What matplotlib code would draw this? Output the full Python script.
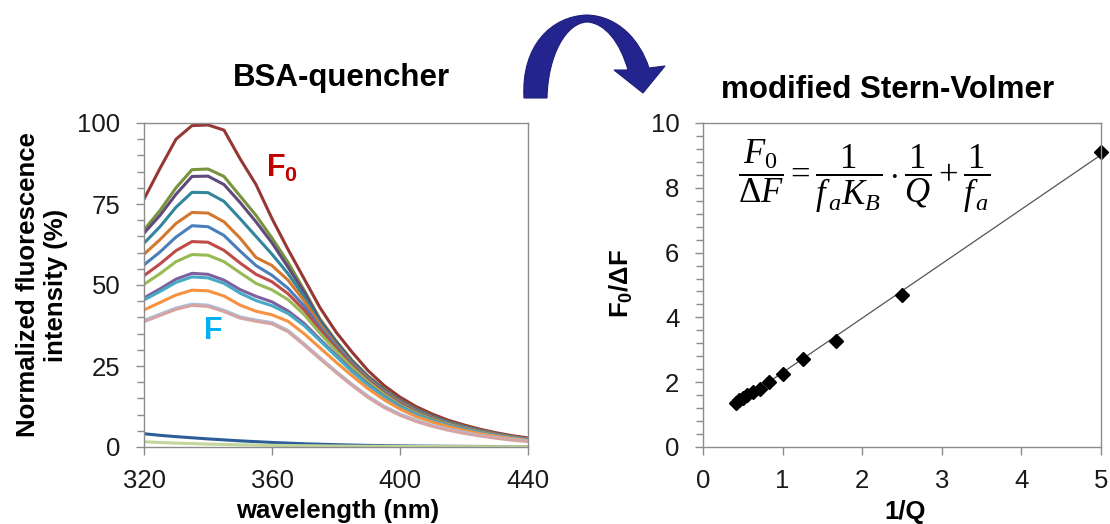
import numpy as np
import matplotlib
matplotlib.use('Agg')
import matplotlib.pyplot as plt
from matplotlib.path import Path
from matplotlib.patches import PathPatch
from matplotlib.ticker import MultipleLocator
import matplotlib.transforms as mtrans

plt.rcParams['font.family'] = ['Liberation Sans', 'DejaVu Sans']
plt.rcParams['mathtext.fontset'] = 'custom'
plt.rcParams['mathtext.rm'] = 'Liberation Serif'
plt.rcParams['mathtext.it'] = 'Liberation Serif:italic'
plt.rcParams['mathtext.bf'] = 'Liberation Sans:bold'
plt.rcParams['mathtext.sf'] = 'Liberation Sans'

# ---------------- data: left panel (emission spectra) ----------------
wavelength = [320, 325, 330, 335, 340, 345, 350, 355, 360, 365, 370, 375, 380,
              385, 390, 395, 400, 405, 410, 415, 420, 425, 430, 435, 440]

F0_curve = [76.5, 86, 95, 99.2, 99.4, 97.8, 89, 81, 70.5, 61, 52, 43, 35.5,
            29.3, 23.6, 19.0, 15.4, 12.5, 10.2, 8.3, 6.8, 5.5, 4.4, 3.5, 2.8]
q01 = [67, 73, 80, 85.6, 85.8, 83.5, 77.5, 71.5, 64.5, 57, 48.5, 39.5, 32.8,
       26.8, 21.9, 17.9, 14.5, 11.8, 9.6, 7.8, 6.4, 5.2, 4.1, 3.2, 2.5]
q02 = [66, 71.5, 78, 83.5, 83.6, 81, 75.5, 69.5, 63, 55.5, 47.8, 39.0, 32.4,
       26.5, 21.7, 17.7, 14.3, 11.6, 9.5, 7.7, 6.3, 5.1, 4.0, 3.2, 2.5]
q03 = [62.9, 68, 74, 78.6, 78.5, 75.8, 70.5, 65, 59.5, 53.5, 46.5, 38.4, 31.9,
       26.1, 21.4, 17.5, 14.1, 11.4, 9.3, 7.6, 6.2, 5.0, 4.0, 3.1, 2.4]
q04 = [59.5, 64, 69, 72.4, 72.2, 69.5, 64.5, 58.5, 56, 51.5, 45.2, 37.8, 31.4,
       25.8, 21.1, 17.2, 13.9, 11.2, 9.1, 7.4, 6.1, 4.9, 3.9, 3.1, 2.4]
q05 = [56.2, 60.2, 64.8, 68.3, 68.0, 65.3, 60.5, 56, 53, 49, 43.6, 36.9, 31.0,
       25.5, 20.8, 16.9, 13.6, 11.0, 8.9, 7.3, 6.0, 4.8, 3.8, 3.0, 2.3]
q06 = [52.9, 56.5, 60.6, 63.4, 63.2, 60.7, 56.8, 53.3, 51, 47.3, 42.3, 36.1, 30.4,
       25.1, 20.5, 16.6, 13.3, 10.7, 8.7, 7.1, 5.8, 4.7, 3.7, 2.9, 2.3]
q07 = [50.2, 53.5, 57.2, 59.4, 59.2, 57.2, 53.8, 50.5, 48.5, 45.5, 40.9, 35.1, 29.7,
       24.6, 20.1, 16.3, 13.0, 10.5, 8.5, 7.0, 5.7, 4.6, 3.6, 2.9, 2.2]
q08 = [46, 48.8, 51.8, 53.6, 53.3, 51.5, 48.6, 46.5, 44.8, 42, 38.2, 33.2, 28.4,
       23.6, 19.4, 15.7, 12.6, 10.1, 8.2, 6.7, 5.5, 4.4, 3.5, 2.8, 2.2]
q09 = [45.4, 48, 50.8, 52.5, 52.2, 50.5, 47.5, 45.2, 43.6, 41.2, 37.5, 32.8, 28,
       23.3, 19.1, 15.5, 12.4, 10.0, 8.1, 6.6, 5.4, 4.4, 3.5, 2.8, 2.2]
q10 = [42.3, 44.6, 46.9, 48.4, 48.2, 46.6, 43.8, 41.9, 40.8, 38.8, 35, 30.6, 26.2,
       22.0, 18.0, 14.6, 11.7, 9.4, 7.7, 6.3, 5.1, 4.1, 3.3, 2.6, 2.0]
q11 = [39.1, 41.0, 42.9, 44.1, 43.8, 42.2, 40.2, 39.2, 38.4, 36.0, 31.9, 27.6, 23.4,
       19.4, 15.7, 12.6, 10.2, 8.3, 6.7, 5.5, 4.5, 3.6, 2.9, 2.3, 1.8]
q12 = [38.7, 40.6, 42.5, 43.7, 43.4, 41.8, 39.8, 38.8, 38, 35.6, 31.5, 27.2, 23,
       19.0, 15.3, 12.2, 9.8, 7.9, 6.4, 5.2, 4.2, 3.4, 2.7, 2.1, 1.7]
blank_buffer = [4.1, 3.6, 3.2, 2.85, 2.5, 2.2, 1.9, 1.65, 1.4, 1.2, 1.0, 0.85, 0.72,
                0.6, 0.5, 0.42, 0.36, 0.3, 0.26, 0.22, 0.19, 0.17, 0.15, 0.13, 0.12]
blank_quencher = [1.6, 1.4, 1.2, 1.05, 0.9, 0.8, 0.7, 0.6, 0.52, 0.45, 0.4, 0.35, 0.3,
                  0.26, 0.23, 0.2, 0.18, 0.16, 0.14, 0.12, 0.11, 0.1, 0.1, 0.1, 0.1]

spectra = [F0_curve, q01, q02, q03, q04, q05, q06, q07, q08, q09, q10, q11, q12,
           blank_buffer, blank_quencher]
spectra_colors = ['#953735', '#77933C', '#604A7B', '#31859C', '#D2782F', '#4A7EBB',
                  '#BE4B48', '#98B954', '#7D60A0', '#46AAC5', '#F69240', '#A9C1DE',
                  '#D5A4A2', '#2C5D98', '#C3D69B']

wl_ticks = [320, 360, 400, 440]
int_ticks = [0, 25, 50, 75, 100]

# ---------------- data: right panel (modified Stern-Volmer) ----------------
inv_Q = [5.0, 2.5, 1.667, 1.25, 1.0, 0.833, 0.714, 0.625, 0.556, 0.5, 0.455, 0.417]
F0_over_dF = [9.12, 4.69, 3.27, 2.71, 2.25, 2.01, 1.80, 1.70, 1.61, 1.52, 1.44, 1.36]
q_ticks = [0, 1, 2, 3, 4, 5]
r_ticks = [0, 2, 4, 6, 8, 10]

W, H = 1110, 524
fig = plt.figure(figsize=(W / 100, H / 100), dpi=100)

spine_col = '#8C8C8C'
tick_font = 18.5
label_font = 18.5


def style_axes(ax):
    for s in ax.spines.values():
        s.set_color(spine_col)
        s.set_linewidth(1.0)
    ax.tick_params(which='both', direction='out', color=spine_col, width=1.0,
                   labelsize=tick_font, labelcolor='#1a1a1a')
    ax.tick_params(axis='y', which='major', length=6, pad=11)
    ax.tick_params(axis='y', which='minor', length=5)
    ax.tick_params(axis='x', which='major', length=6, pad=10)


# left panel
ax1 = fig.add_axes([144 / W, 1 - 447 / H, 384 / W, 324 / H])
for ys, c in zip(spectra, spectra_colors):
    ax1.plot(wavelength, ys, color=c, lw=2.2, solid_capstyle='round', solid_joinstyle='round')
ax1.set_xlim(320, 440)
ax1.set_ylim(0, 100)
ax1.set_xticks(wl_ticks)
ax1.set_yticks(int_ticks)
ax1.yaxis.set_minor_locator(MultipleLocator(5))
style_axes(ax1)
ax1.text(363.1, 86.1, r'$\mathbf{F_0}$', color='#C00000', fontsize=22,
         ha='center', va='center')
ax1.text(341.7, 35.8, 'F', color='#00B0F0', fontsize=22, fontweight='bold',
         ha='center', va='center')

# right panel
ax2 = fig.add_axes([703 / W, 1 - 447 / H, 398 / W, 324 / H])
fit = np.polyfit(inv_Q, F0_over_dF, 1)
xs = np.array([min(inv_Q), max(inv_Q)])
ax2.plot(xs, np.polyval(fit, xs), color='#555555', lw=0.9)
ax2.plot(inv_Q, F0_over_dF, 'D', color='black', ms=7, clip_on=False)
ax2.set_xlim(0, 5)
ax2.set_ylim(0, 10)
ax2.set_xticks(q_ticks)
ax2.set_yticks(r_ticks)
ax2.yaxis.set_minor_locator(MultipleLocator(0.4))
style_axes(ax2)
fig.text(864 / W, 1 - 176 / H,
         r'$\dfrac{F_0}{\Delta F} = \dfrac{1}{f_{\,a}K_B}\cdot\dfrac{1}{Q} + \dfrac{1}{f_{\,a}}$',
         fontsize=25, ha='center', va='center')

# titles and axis labels
fig.text(341 / W, 1 - 78 / H, 'BSA-quencher', fontsize=22.5, fontweight='bold',
         ha='center', va='center')
fig.text(888 / W, 1 - 90 / H, 'modified Stern-Volmer', fontsize=22.5, fontweight='bold',
         ha='center', va='center')
fig.text(338 / W, 1 - 511 / H, 'wavelength (nm)', fontsize=label_font, fontweight='bold',
         ha='center', va='center')
fig.text(905 / W, 1 - 512 / H, '1/Q', fontsize=label_font, fontweight='bold',
         ha='center', va='center')
fig.text(621 / W, 1 - 283 / H, r'$\mathbf{F_0/\Delta F}$', fontsize=label_font,
         rotation=90, ha='center', va='center')
fig.text(42 / W, 1 - 285 / H, 'Normalized fluorescence\nintensity (%)', fontsize=label_font,
         fontweight='bold', rotation=90, ha='center', va='center', linespacing=1.25,
         multialignment='center')

# curved arrow (decoration), pixel coordinates -> figure
px = mtrans.Affine2D().scale(1 / W, -1 / H).translate(0, 1) + fig.transFigure
verts = [(524, 98),
         (521, 45), (552, 16), (587, 15),
         (618, 16), (640, 40), (649, 68),
         (665, 66), (643, 93), (614, 70), (628, 70),
         (620, 42), (605, 23), (587, 22),
         (566, 23), (548, 55), (547, 98),
         (524, 98)]
codes = [Path.MOVETO,
         Path.CURVE4, Path.CURVE4, Path.CURVE4,
         Path.CURVE4, Path.CURVE4, Path.CURVE4,
         Path.LINETO, Path.LINETO, Path.LINETO, Path.LINETO,
         Path.CURVE4, Path.CURVE4, Path.CURVE4,
         Path.CURVE4, Path.CURVE4, Path.CURVE4,
         Path.CLOSEPOLY]
fig.patches.append(PathPatch(Path(verts, codes), facecolor='#24248F', edgecolor='#1E1E78',
                             lw=0.8, transform=px))

fig.savefig('out.png', dpi=100)
